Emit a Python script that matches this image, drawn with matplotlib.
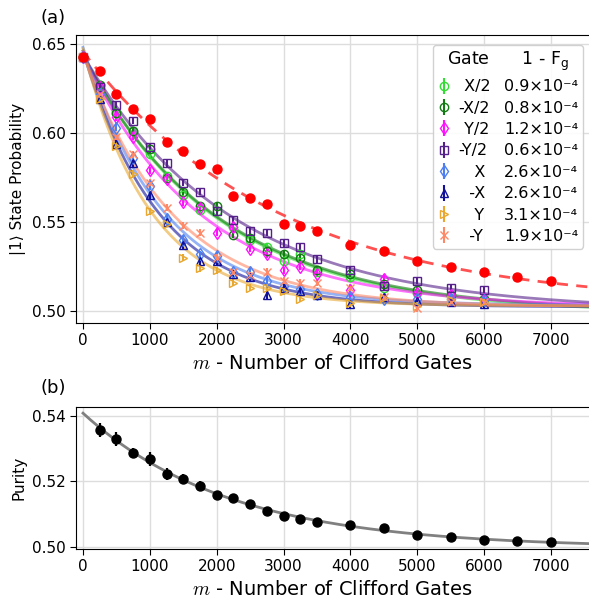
import numpy as np
import matplotlib
matplotlib.use("Agg")
import matplotlib.pyplot as plt
from matplotlib.lines import Line2D

# ---------------- data ----------------
m_gate = [0, 250, 500, 750, 1000, 1250, 1500, 1750, 2000, 2250, 2500, 2750,
          3000, 3250, 3500, 4000, 4500, 5000, 5500, 6000]

gate_names = ["X/2", "-X/2", "Y/2", "-Y/2", "X", "-X", "Y", "-Y"]
gate_labels = [" X/2", "-X/2", " Y/2", "-Y/2", "   X", "  -X", "   Y", "  -Y"]
gate_infid = ["0.9", "0.8", "1.2", "0.6", "2.6", "2.6", "3.1", "1.9"]

p_X2 = [0.643, 0.627, 0.611, 0.601, 0.588, 0.576, 0.565, 0.557, 0.556, 0.547, 0.540, 0.536,
        0.528, 0.532, 0.522, 0.519, 0.513, 0.510, 0.509, 0.507]
p_mX2 = [0.643, 0.627, 0.611, 0.601, 0.591, 0.575, 0.567, 0.559, 0.559, 0.543, 0.541, 0.534,
         0.532, 0.530, 0.523, 0.521, 0.515, 0.512, 0.509, 0.507]
p_Y2 = [0.643, 0.626, 0.609, 0.598, 0.579, 0.574, 0.561, 0.558, 0.544, 0.547, 0.535, 0.532,
        0.523, 0.525, 0.521, 0.512, 0.518, 0.510, 0.509, 0.507]
p_mY2 = [0.643, 0.626, 0.616, 0.607, 0.592, 0.583, 0.572, 0.567, 0.556, 0.551, 0.545, 0.544,
         0.538, 0.536, 0.529, 0.523, 0.514, 0.517, 0.513, 0.512]
p_X = [0.643, 0.622, 0.603, 0.586, 0.570, 0.552, 0.540, 0.532, 0.531, 0.522, 0.522, 0.517,
       0.514, 0.5125, 0.5095, 0.508, 0.507, 0.507, 0.507, 0.506]
p_mX = [0.643, 0.619, 0.594, 0.583, 0.565, 0.550, 0.537, 0.528, 0.528, 0.521, 0.519, 0.509,
        0.513, 0.511, 0.509, 0.504, 0.508, 0.5055, 0.505, 0.504]
p_Y = [0.643, 0.619, 0.593, 0.577, 0.556, 0.549, 0.530, 0.524, 0.523, 0.516, 0.513, 0.513,
       0.511, 0.507, 0.509, 0.5045, 0.5075, 0.503, 0.506, 0.505]
p_mY = [0.643, 0.622, 0.598, 0.588, 0.572, 0.558, 0.548, 0.544, 0.530, 0.522, 0.520, 0.522,
        0.517, 0.516, 0.516, 0.513, 0.508, 0.5015, 0.505, 0.505]
gate_err = 0.002

m_ref = [0, 250, 500, 750, 1000, 1250, 1500, 1750, 2000, 2250, 2500, 2750, 3000, 3250, 3500,
         4000, 4500, 5000, 5500, 6000, 6500, 7000]
p_ref = [0.643, 0.635, 0.622, 0.6135, 0.608, 0.595, 0.590, 0.5826, 0.580, 0.5648, 0.5635,
         0.560, 0.549, 0.548, 0.545, 0.537, 0.5337, 0.528, 0.525, 0.5217, 0.5193, 0.517]
ref_err = 0.0012

m_pur = [250, 500, 750, 1000, 1250, 1500, 1750, 2000, 2250, 2500, 2750, 3000, 3250, 3500,
         4000, 4500, 5000, 5500, 6000, 6500, 7000]
purity = [0.5357, 0.5329, 0.5286, 0.5268, 0.5223, 0.5207, 0.5187, 0.5158, 0.5150, 0.5130,
          0.5108, 0.5093, 0.5086, 0.5075, 0.5067, 0.5056, 0.5036, 0.5031, 0.5022, 0.5018, 0.5015]
purity_err = [0.0022, 0.0022, 0.0015, 0.0020, 0.0018, 0.0015, 0.0014, 0.0012, 0.0010, 0.0009,
              0.0008, 0.0009, 0.0007, 0.0007, 0.0006, 0.0006, 0.0006, 0.0005, 0.0005, 0.0005,
              0.0005]

gate_data = [p_X2, p_mX2, p_Y2, p_mY2, p_X, p_mX, p_Y, p_mY]
gate_colors = ["#33dd33", "#127a12", "#ff11ff", "#55208a", "#4d7ff0", "#10109a", "#e8a830", "#ff8866"]
gate_markers = ["o", "o", "d", "s", "d", "^", ">", "x"]


def fit_exp(m, y):
    """Fit y = A p^m + B by grid search on p and linear least squares."""
    m = np.asarray(m, float)
    y = np.asarray(y, float)
    best = None
    for p in np.linspace(0.9990, 0.99995, 3000):
        M = np.column_stack([p ** m, np.ones_like(m)])
        coef, *_ = np.linalg.lstsq(M, y, rcond=None)
        r = np.sum((M @ coef - y) ** 2)
        if best is None or r < best[0]:
            best = (r, p, coef)
    _, p, (A, B) = best
    return lambda x: A * p ** x + B


# ---------------- figure ----------------
fig = plt.figure(figsize=(5.89, 5.99), dpi=100)
ax1 = fig.add_axes([76 / 589, 1 - 323 / 599, 1 - 76 / 589, 288 / 599])
ax2 = fig.add_axes([76 / 589, 1 - 549 / 599, 1 - 76 / 589, 142 / 599])

xfit = np.linspace(0, 7600, 400)

for data, c in zip(gate_data, gate_colors):
    f = fit_exp(m_gate, data)
    ax1.plot(xfit, f(xfit), color=c, alpha=0.6, lw=2, zorder=2)

handles = []
for data, c, mk in zip(gate_data, gate_colors, gate_markers):
    h = ax1.errorbar(m_gate, data, yerr=gate_err, fmt=mk, color=c, mfc="none", mec=c,
                     ms=6, mew=1.0, elinewidth=1.5, capsize=0, zorder=3)
    handles.append(h)

fref = fit_exp(m_ref, p_ref)
ax1.plot(xfit, fref(xfit), color="#ff3333", ls=(0, (4, 3)), lw=2, alpha=0.85, zorder=2)
ax1.errorbar(m_ref, p_ref, yerr=ref_err, fmt="o", color="#ff0000", ms=6.5, elinewidth=1.2,
             capsize=0, zorder=4)

# legend: column of gate names and column of infidelities
blank = [Line2D([], [], ls="none") for _ in gate_names]
vals = [v + "×10\u207b\u2074" for v in gate_infid]
leg = ax1.legend(handles + blank, gate_labels + vals, ncol=2, loc="upper right",
                 bbox_to_anchor=(0.988, 0.966), fontsize=11.5, handlelength=0.8,
                 handletextpad=0.5, columnspacing=-0.45, labelspacing=0.40,
                 title="Gate      1 - F$_\\mathregular{g}$", title_fontsize=12.5,
                 framealpha=0.9, borderpad=0.3, borderaxespad=0)

ax1.set_xlim(-105, 7570)
ax1.set_ylim(0.4933, 0.6551)
ax1.set_yticks([0.50, 0.55, 0.60, 0.65])
ax1.set_xticks(range(0, 8000, 1000))
ax1.set_ylabel("|1⟩ State Probability", fontsize=11)
ax1.set_xlabel("$m$ - Number of Clifford Gates", fontsize=14, math_fontfamily="cm")

# purity
fpur = fit_exp(m_pur, purity)
xp = np.linspace(0, 7550, 400)
ax2.plot(xp, fpur(xp), color="#808080", lw=2, zorder=2)
ax2.errorbar(m_pur, purity, yerr=purity_err, fmt="o", color="black", ms=6.5,
             elinewidth=1.6, capsize=0, zorder=3)
ax2.set_xlim(-105, 7570)
ax2.set_ylim(0.4993, 0.5427)
ax2.set_yticks([0.50, 0.52, 0.54])
ax2.set_xticks(range(0, 8000, 1000))
ax2.set_ylabel("Purity", fontsize=11)
ax2.set_xlabel("$m$ - Number of Clifford Gates", fontsize=14, math_fontfamily="cm")

for ax in (ax1, ax2):
    ax.grid(True, color="#dddddd", lw=1)
    ax.set_axisbelow(True)
    ax.tick_params(labelsize=11, direction="out", length=4)
    ax.spines["right"].set_visible(False)

fig.text(40 / 589, 1 - 18 / 599, "(a)", fontsize=13, va="center")
fig.text(40 / 589, 1 - 388 / 599, "(b)", fontsize=13, va="center")

fig.savefig("out.png", dpi=100)
